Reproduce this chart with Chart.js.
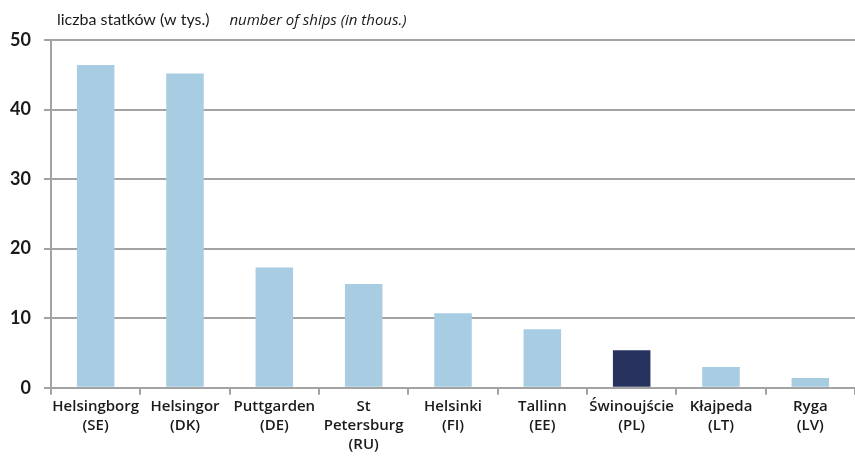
<!DOCTYPE html>
<html>
<head>
<meta charset="utf-8">
<script src="https://cdn.jsdelivr.net/npm/chart.js@4.4.0/dist/chart.umd.min.js"></script>
<style>
  html, body { margin: 0; padding: 0; background: #fff; }
  #wrap { width: 855px; height: 457px; position: relative; }
</style>
</head>
<body>
<div id="wrap"><canvas id="shipsChart"></canvas></div>
<script>
const ports = [
  ['Helsingborg', '(SE)'], ['Helsingor', '(DK)'], ['Puttgarden', '(DE)'],
  ['St', 'Petersburg', '(RU)'], ['Helsinki', '(FI)'], ['Tallinn', '(EE)'],
  ['Świnoujście', '(PL)'], ['Kłajpeda', '(LT)'], ['Ryga', '(LV)']
];
const ships = [46.4, 45.2, 17.3, 14.9, 10.7, 8.4, 5.4, 3.0, 1.4];
const yTicks = [0, 10, 20, 30, 40, 50];

const lightBlue = '#a8cce2';
const navy = '#28325e';
const gridGrey = '#a3a3a3';
const FONT = 'Lato, "Open Sans", sans-serif';
const LABEL_FONT = '"Open Sans", Lato, sans-serif';

// axis caption: regular Polish part, italic English part
const captionPlugin = {
  id: 'caption',
  afterDraw(chart) {
    const c = chart.ctx;
    const x0 = chart.chartArea.left + 6;
    c.save();
    c.fillStyle = '#1a1a1a';
    c.textBaseline = 'alphabetic';
    c.font = '16px ' + FONT;
    const pl = 'liczba statków (w tys.)';
    c.fillText(pl, x0, 25);
    const w = c.measureText(pl).width;
    c.font = 'italic 15px ' + LABEL_FONT;
    c.fillText('number of ships (in thous.)', x0 + w + 20, 25);
    c.restore();
  }
};

const ctx = document.getElementById('shipsChart').getContext('2d');
new Chart(ctx, {
  type: 'bar',
  data: {
    labels: ports,
    datasets: [{
      data: ships,
      backgroundColor: ports.map(p => p[0] === 'Świnoujście' ? navy : lightBlue),
      barPercentage: 0.42,
      categoryPercentage: 1.0
    }]
  },
  options: {
    responsive: true,
    maintainAspectRatio: false,
    animation: false,
    layout: { padding: { top: 40, right: 0, left: 4, bottom: 0 } },
    scales: {
      y: {
        min: 0,
        max: 50,
        afterBuildTicks(axis) { axis.ticks = yTicks.map(v => ({ value: v })); },
        afterFit(axis) { axis.width = 47; },
        grid: { color: gridGrey, lineWidth: 2, tickLength: 7 },
        border: { color: gridGrey, width: 2 },
        ticks: { color: '#1a1a1a', padding: 13, font: { family: FONT, size: 18, weight: 'bold' } }
      },
      x: {
        grid: { offset: true, drawOnChartArea: false, color: gridGrey, lineWidth: 2, tickLength: 7 },
        border: { color: gridGrey, width: 2 },
        ticks: {
          color: '#1a1a1a', maxRotation: 0, autoSkip: false, padding: 3,
          font: { family: LABEL_FONT, size: 15, weight: '600', lineHeight: 1.25 }
        }
      }
    },
    plugins: {
      legend: { display: false },
      tooltip: { enabled: false }
    }
  },
  plugins: [captionPlugin]
});
</script>
</body>
</html>
